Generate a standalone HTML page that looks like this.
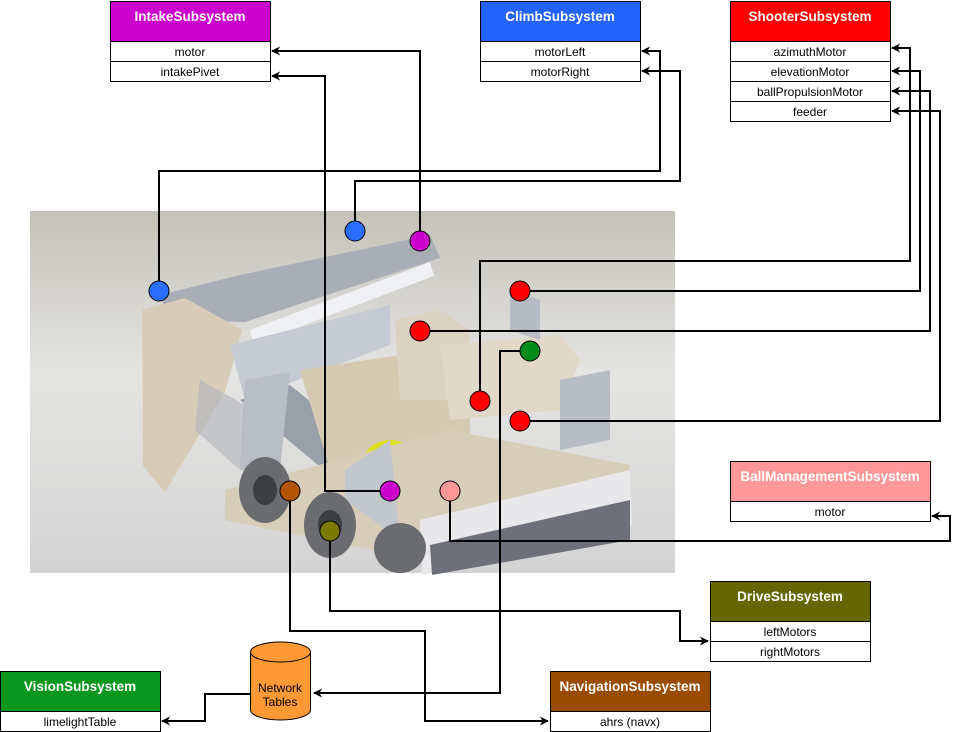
<!DOCTYPE html>
<html><head><meta charset="utf-8"><style>
html,body{margin:0;padding:0;background:#fff;}
svg{display:block;font-family:"Liberation Sans",Arial,sans-serif;}
.h{font-weight:bold;font-size:13.5px;fill:#fff;text-anchor:middle;}
.r{font-size:12px;fill:#000;text-anchor:middle;}
.ln{fill:none;stroke:#000;stroke-width:2;}
.dot{stroke:#000;stroke-width:1;}
</style></head><body>
<svg width="960" height="732" viewBox="0 0 960 732" xmlns="http://www.w3.org/2000/svg">
<defs>
<linearGradient id="bg" x1="0" y1="0" x2="0" y2="1">
<stop offset="0" stop-color="#c4c1b9"/><stop offset="0.45" stop-color="#e4e4e2"/><stop offset="1" stop-color="#d4d4d4"/>
</linearGradient>
<marker id="a" viewBox="0 0 10 10" refX="9" refY="5" markerWidth="9" markerHeight="9" orient="auto-start-reverse" markerUnits="userSpaceOnUse">
<path d="M0,0 L10,5 L0,10 L3,5 z" fill="#000"/></marker>
</defs>

<rect x="30" y="211" width="645" height="362" fill="url(#bg)"/>
<g>
<polygon points="160,295 240,275 430,235 440,258 245,322 170,320" fill="#a9adb5"/>
<polygon points="142,310 185,298 242,330 225,392 165,492 143,466" fill="#d8ccb8"/>
<polygon points="250,330 430,262 434,276 254,344" fill="#eef0f3"/>
<polygon points="230,345 390,305 390,345 245,400" fill="#c6cbd3"/>
<polygon points="240,400 290,385 395,470 360,500" fill="#9aa0aa"/>
<polygon points="245,380 290,372 280,470 240,470" fill="#b9bdc4"/>
<polygon points="300,370 400,355 470,360 470,470 330,470" fill="#d6c9b2"/>
<polygon points="395,320 440,310 470,330 470,400 400,400" fill="#dcd2c2"/>
<polygon points="440,345 560,335 580,360 560,410 450,420" fill="#e2d8c8"/>
<polygon points="510,290 540,300 540,340 510,330" fill="#b7bcc4"/>
<polygon points="560,380 610,370 610,440 560,450" fill="#b8bdc5"/>
<circle cx="390" cy="470" r="30" fill="#dede20"/>
<polygon points="225,490 450,430 630,465 630,505 420,560 225,520" fill="#d8cdb8"/>
<polygon points="345,470 390,440 400,540 345,500" fill="#c2c6cd"/>
<polygon points="420,520 630,470 632,525 422,575" fill="#e8e8ea"/>
<polygon points="430,545 630,500 630,540 432,575" fill="#6d7078"/>
<ellipse cx="265" cy="490" rx="26" ry="33" fill="#6a6c70"/>
<ellipse cx="330" cy="525" rx="26" ry="33" fill="#6a6c70"/>
<ellipse cx="400" cy="548" rx="26" ry="25" fill="#6a6c70"/>
<ellipse cx="265" cy="490" rx="12" ry="15" fill="#3c3e42"/>
<ellipse cx="330" cy="525" rx="12" ry="15" fill="#3c3e42"/>
<polygon points="200,380 245,405 240,470 195,430" fill="#b0b4bb" opacity="0.6"/>
</g>

<polyline class="ln" points="420,241 420,51 272,51" marker-end="url(#a)"/>
<polyline class="ln" points="390,491 325,491 325,76 272,76" marker-end="url(#a)"/>
<polyline class="ln" points="159,291 159,171 660,171 660,51 642,51" marker-end="url(#a)"/>
<polyline class="ln" points="355,231 355,181 680,181 680,71 642,71" marker-end="url(#a)"/>
<polyline class="ln" points="480,401 480,261 910,261 910,48 892,48" marker-end="url(#a)"/>
<polyline class="ln" points="520,291 920,291 920,71 892,71" marker-end="url(#a)"/>
<polyline class="ln" points="420,331 930,331 930,91 892,91" marker-end="url(#a)"/>
<polyline class="ln" points="520,421 940,421 940,111 892,111" marker-end="url(#a)"/>
<polyline class="ln" points="450,491 450,541 950,541 950,516 932,516" marker-end="url(#a)"/>
<polyline class="ln" points="530,351 500,351 500,693 314,693" marker-end="url(#a)"/>
<polyline class="ln" points="290,491 290,631 425,631 425,721 548,721" marker-end="url(#a)"/>
<polyline class="ln" points="330,531 330,611 680,611 680,641 708,641" marker-end="url(#a)"/>
<polyline class="ln" points="250,694 205,694 205,721 162,721" marker-end="url(#a)"/>

<circle class="dot" cx="159" cy="291" r="10" fill="#2a6dff" stroke="none"/>
<circle class="dot" cx="355" cy="231" r="10" fill="#2a6dff" stroke="none"/>
<circle class="dot" cx="420" cy="241" r="10" fill="#cc00cc"/>
<circle class="dot" cx="520" cy="291" r="10" fill="#ff0000"/>
<circle class="dot" cx="420" cy="331" r="10" fill="#ff0000"/>
<circle class="dot" cx="530" cy="351" r="10" fill="#008a1a"/>
<circle class="dot" cx="480" cy="401" r="10" fill="#ff0000"/>
<circle class="dot" cx="520" cy="421" r="10" fill="#ff0000"/>
<circle class="dot" cx="390" cy="491" r="10" fill="#cc00cc"/>
<circle class="dot" cx="450" cy="491" r="10" fill="#ff9999"/>
<circle class="dot" cx="290" cy="491" r="10" fill="#b35400"/>
<circle class="dot" cx="330" cy="531" r="10" fill="#7a7a00"/>

<rect x="110.5" y="1.5" width="160" height="40" fill="#cc00cc" stroke="#000"/>
<text class="h" x="190" y="21">IntakeSubsystem</text>
<rect x="110.5" y="41.5" width="160" height="20" fill="#fff" stroke="#000"/>
<text class="r" x="190" y="56">motor</text>
<rect x="110.5" y="61.5" width="160" height="20" fill="#fff" stroke="#000"/>
<text class="r" x="190" y="76">intakePivet</text>

<rect x="480.5" y="1.5" width="160" height="40" fill="#2563ff" stroke="#000"/>
<text class="h" x="560" y="21">ClimbSubsystem</text>
<rect x="480.5" y="41.5" width="160" height="20" fill="#fff" stroke="#000"/>
<text class="r" x="560" y="56">motorLeft</text>
<rect x="480.5" y="61.5" width="160" height="20" fill="#fff" stroke="#000"/>
<text class="r" x="560" y="76">motorRight</text>

<rect x="730.5" y="1.5" width="160" height="40" fill="#ff0000" stroke="#000"/>
<text class="h" x="810" y="21">ShooterSubsystem</text>
<rect x="730.5" y="41.5" width="160" height="20" fill="#fff" stroke="#000"/>
<text class="r" x="810" y="56">azimuthMotor</text>
<rect x="730.5" y="61.5" width="160" height="20" fill="#fff" stroke="#000"/>
<text class="r" x="810" y="76">elevationMotor</text>
<rect x="730.5" y="81.5" width="160" height="20" fill="#fff" stroke="#000"/>
<text class="r" x="810" y="96">ballPropulsionMotor</text>
<rect x="730.5" y="101.5" width="160" height="20" fill="#fff" stroke="#000"/>
<text class="r" x="810" y="116">feeder</text>

<rect x="730.5" y="461.5" width="200" height="40" fill="#ff9999" stroke="#000"/>
<text class="h" x="830" y="481">BallManagementSubsystem</text>
<rect x="730.5" y="501.5" width="200" height="20" fill="#fff" stroke="#000"/>
<text class="r" x="830" y="516">motor</text>

<rect x="710.5" y="581.5" width="160" height="40" fill="#666600" stroke="#000"/>
<text class="h" x="790" y="601">DriveSubsystem</text>
<rect x="710.5" y="621.5" width="160" height="20" fill="#fff" stroke="#000"/>
<text class="r" x="790" y="636">leftMotors</text>
<rect x="710.5" y="641.5" width="160" height="20" fill="#fff" stroke="#000"/>
<text class="r" x="790" y="656">rightMotors</text>

<rect x="550.5" y="671.5" width="160" height="40" fill="#994c00" stroke="#000"/>
<text class="h" x="630" y="691">NavigationSubsystem</text>
<rect x="550.5" y="711.5" width="160" height="20" fill="#fff" stroke="#000"/>
<text class="r" x="630" y="726">ahrs (navx)</text>

<rect x="0.5" y="671.5" width="160" height="40" fill="#08961e" stroke="#000"/>
<text class="h" x="80" y="691">VisionSubsystem</text>
<rect x="0.5" y="711.5" width="160" height="20" fill="#fff" stroke="#000"/>
<text class="r" x="80" y="726">limelightTable</text>

<path d="M250.5,652 L250.5,710 A30,10 0 0 0 310.5,710 L310.5,652 A30,10 0 0 0 250.5,652 Z" fill="#ff9933" stroke="#000"/>
<path d="M250.5,652 A30,10 0 0 0 310.5,652" fill="none" stroke="#000"/>
<text class="r" x="280" y="692">Network</text>
<text class="r" x="280" y="706">Tables</text>
</svg>
</body></html>
